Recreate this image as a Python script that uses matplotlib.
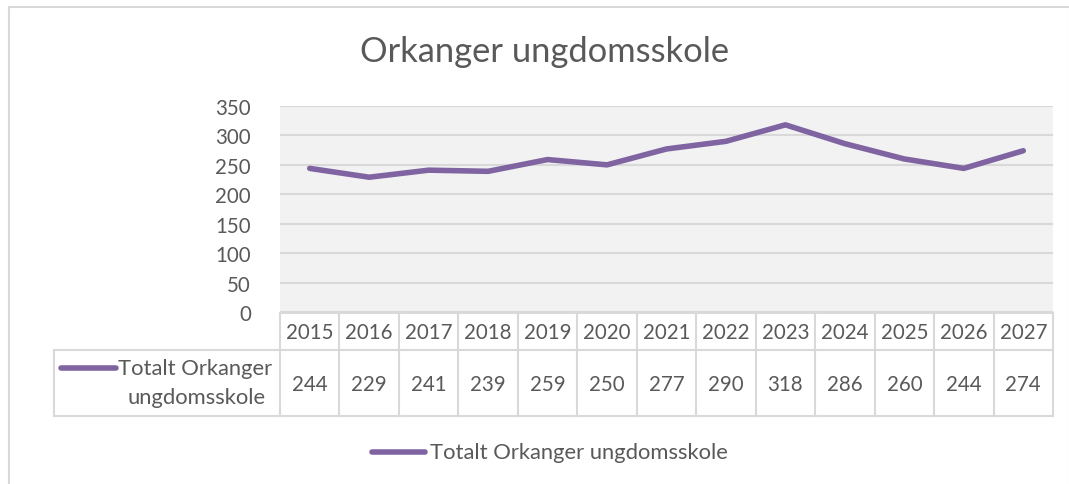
import matplotlib.pyplot as plt
from matplotlib.lines import Line2D
from matplotlib.patches import Rectangle

# data
years = ["2015", "2016", "2017", "2018", "2019", "2020", "2021",
         "2022", "2023", "2024", "2025", "2026", "2027"]
elever = [244, 229, 241, 239, 259, 250, 277, 290, 318, 286, 260, 244, 274]
serie_navn = "Totalt Orkanger ungdomsskole"
tittel = "Orkanger ungdomsskole"
y_ticks = [0, 50, 100, 150, 200, 250, 300, 350]

plt.rcParams['font.family'] = ['Lato', 'DejaVu Sans']
tekst = "#595959"
grid = "#D9D9D9"
lilla = "#8064A2"
fs_tall = 14.8   # numbers
fs_ord = 15.8    # words

W, H = 1069, 485
fig = plt.figure(figsize=(W / 100, H / 100), dpi=100)

def fx(px):
    return px / W

def fy(py):
    return 1 - py / H

# chart border
fig.patches.append(Rectangle((fx(9), fy(490)), fx(1070 - 9), fy(8) - fy(490),
                             transform=fig.transFigure, fill=False,
                             edgecolor=grid, linewidth=1.5))

left, right, top, bottom = 280, 1053, 107, 313
ax = fig.add_axes([fx(left), fy(bottom), fx(right - left), fy(top) - fy(bottom)])
ax.set_facecolor("#F2F2F2")
x = list(range(len(years)))
ax.plot(x, elever, color=lilla, linewidth=4, solid_capstyle="round",
        solid_joinstyle="round", zorder=3)
ax.set_xlim(-0.5, len(years) - 0.5)
ax.set_ylim(0, 350)
ax.set_yticks(y_ticks)
ax.set_yticklabels([str(t) for t in y_ticks], fontsize=fs_tall, color=tekst)
ax.tick_params(axis="y", length=0, pad=21)
ax.set_xticks([])
for t in y_ticks:
    ax.axhline(t, color=grid, linewidth=1.5, zorder=1)
for s in ax.spines.values():
    s.set_visible(False)

fig.text(fx(545), fy(52), tittel, ha="center", va="center",
         fontsize=24.8, color=tekst)

# data table
col_w = (right - left) / len(years)
hdr_top, hdr_bot, row_bot = 314, 351, 417
lc = dict(color=grid, linewidth=1.5, transform=fig.transFigure)
fig.add_artist(Line2D([fx(left), fx(right)], [fy(hdr_top)] * 2, **lc))
fig.add_artist(Line2D([fx(54), fx(right)], [fy(hdr_bot)] * 2, **lc))
fig.add_artist(Line2D([fx(54), fx(right)], [fy(row_bot)] * 2, **lc))
fig.add_artist(Line2D([fx(54)] * 2, [fy(hdr_bot), fy(row_bot)], **lc))
for i in range(len(years) + 1):
    xp = left + i * col_w
    fig.add_artist(Line2D([fx(xp)] * 2, [fy(hdr_top), fy(row_bot)], **lc))
for i, (yr, v) in enumerate(zip(years, elever)):
    xc = left + (i + 0.5) * col_w
    fig.text(fx(xc), fy(333), yr, ha="center", va="center", fontsize=fs_tall, color=tekst)
    fig.text(fx(xc), fy(385), str(v), ha="center", va="center", fontsize=fs_tall, color=tekst)

# row header with legend key
fig.add_artist(Line2D([fx(61), fx(116)], [fy(369)] * 2, color=lilla, linewidth=4,
                      solid_capstyle="round", transform=fig.transFigure))
fig.text(fx(272), fy(369), "Totalt Orkanger", ha="right", va="center",
         fontsize=fs_ord, color=tekst)
fig.text(fx(266), fy(398), "ungdomsskole", ha="right", va="center",
         fontsize=fs_ord, color=tekst)

# legend
fig.add_artist(Line2D([fx(372), fx(425)], [fy(453)] * 2, color=lilla, linewidth=4,
                      solid_capstyle="round", transform=fig.transFigure))
fig.text(fx(430), fy(453), serie_navn, ha="left", va="center",
         fontsize=fs_ord, color=tekst)

fig.savefig("out.png", dpi=100)
